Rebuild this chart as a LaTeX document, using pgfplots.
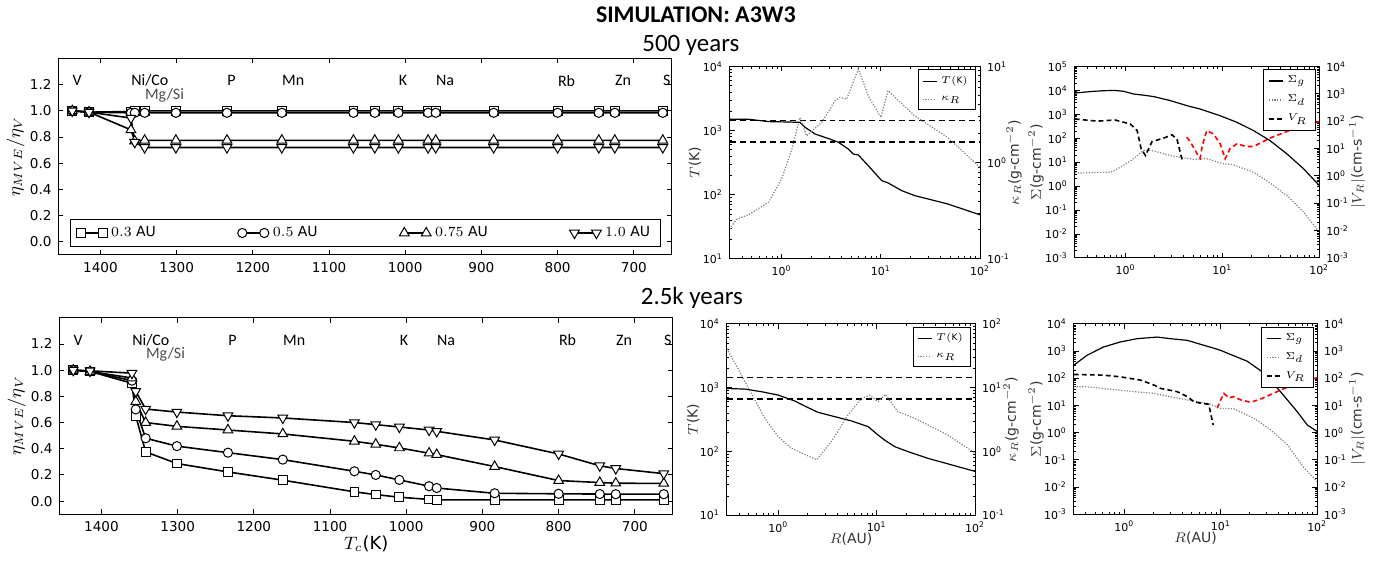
\documentclass[border=0pt]{standalone}
\usepackage{fontspec}
\setmainfont{DejaVu Sans}
\newfontfamily\carlito{Carlito}
\usepackage{pgfplots}
\pgfplotsset{compat=1.18}

\tikzset{elab/.style={font=\carlito\fontsize{8}{9}\selectfont, anchor=west, inner sep=0pt}}

\pgfplotsset{
  pbase/.style={
    scale only axis, tick align=inside,
    major tick length=2.4pt, minor tick length=1.3pt,
    axis line style={line width=0.5pt},
    every tick/.style={black, line width=0.45pt},
    /pgf/number format/assume math mode=true,
  },
  etapanel/.style={pbase,
    width=307.5pt, height=98.5pt,
    x dir=reverse, xmin=650, xmax=1455, ymin=-0.1, ymax=1.4,
    xtick={700,800,900,1000,1100,1200,1300,1400},
    ytick={0,0.2,0.4,0.6,0.8,1.0,1.2},
    ticklabel style={font=\fontsize{6.8}{8}\selectfont},
    yticklabel style={/pgf/number format/.cd, fixed, fixed zerofill, precision=1},
    xticklabel style={/pgf/number format/.cd, set thousands separator={}},
    clip=false,
    ylabel={$\eta_{MVE}/\eta_V$},
    ylabel style={font=\fontsize{9}{10}\selectfont, at={(axis description cs:-0.07,0.5)}, anchor=center},
    xlabel style={font=\fontsize{9}{10}\selectfont, at={(axis description cs:0.5,-0.15)}, anchor=center},
  },
  sq/.style={black, line width=0.8pt, mark=square*, mark size=2.2pt, mark options={fill=white, line width=0.5pt}},
  ci/.style={black, line width=0.8pt, mark=*, mark size=2.3pt, mark options={fill=white, line width=0.5pt}},
  tu/.style={black, line width=0.8pt, mark=triangle*, mark size=2.8pt, mark options={fill=white, line width=0.5pt}},
  td/.style={black, line width=0.8pt, mark=triangle*, mark size=2.8pt, mark options={fill=white, rotate=180, line width=0.5pt}},
  rpanel/.style={pbase, xmin=0.3, xmax=100,
    xtick={1,10,100},
    xticklabels={10\textsuperscript{0},10\textsuperscript{1},10\textsuperscript{2}},
    minor xtick={0.4,0.5,0.6,0.7,0.8,0.9,2,3,4,5,6,7,8,9,20,30,40,50,60,70,80,90},
    ticklabel style={font=\fontsize{5.5}{6}\selectfont},
    label style={font=\fontsize{7}{8}\selectfont, text=black!80},
    xlabel style={at={(axis description cs:0.5,-0.125)}, anchor=center},
  },
  leftlab/.style={ylabel style={at={(axis description cs:#1,0.5)}, anchor=center}},
  minT/.style={minor ytick={20,30,40,50,60,70,80,90,200,300,400,500,600,700,800,900,2000,3000,4000,5000,6000,7000,8000,9000}},
  minKa/.style={minor ytick={0.2,0.3,0.4,0.5,0.6,0.7,0.8,0.9,2,3,4,5,6,7,8,9}},
  minKb/.style={minor ytick={0.2,0.3,0.4,0.5,0.6,0.7,0.8,0.9,2,3,4,5,6,7,8,9,20,30,40,50,60,70,80,90}},
  minV/.style={minor ytick={0.002,0.003,0.004,0.005,0.006,0.007,0.008,0.009,0.02,0.03,0.04,0.05,0.06,0.07,0.08,0.09,0.2,0.3,0.4,0.5,0.6,0.7,0.8,0.9,2,3,4,5,6,7,8,9,20,30,40,50,60,70,80,90,200,300,400,500,600,700,800,900,2000,3000,4000,5000,6000,7000,8000,9000}},
  minS/.style={minor ytick={0.002,0.003,0.004,0.005,0.006,0.007,0.008,0.009,0.02,0.03,0.04,0.05,0.06,0.07,0.08,0.09,0.2,0.3,0.4,0.5,0.6,0.7,0.8,0.9,2,3,4,5,6,7,8,9,20,30,40,50,60,70,80,90,200,300,400,500,600,700,800,900,2000,3000,4000,5000,6000,7000,8000,9000,20000,30000,40000,50000,60000,70000,80000,90000}},
  twin/.style={hide x axis, ytick pos=right, yticklabel pos=right},
  smalllegend/.style={legend style={at={(0.985,0.985)}, anchor=north east,
      font=\fontsize{4.5}{5}\selectfont, draw=black, line width=0.5pt,
      inner xsep=2pt, inner ysep=1.2pt, row sep=0.6pt, cells={anchor=west}},
    legend image code/.code={\draw[##1] (0pt,0pt) -- (7pt,0pt);}},
  Tline/.style={black, line width=0.6pt},
  kline/.style={gray, line width=0.6pt, dash pattern=on 0.6pt off 0.8pt},
  Sg/.style={black, line width=0.6pt},
  Sd/.style={gray, line width=0.6pt, dash pattern=on 0.6pt off 0.8pt},
  Vb/.style={black, line width=0.8pt, dash pattern=on 2.4pt off 1.6pt},
  Vr/.style={red, line width=0.8pt, dash pattern=on 2.4pt off 1.6pt},
  hline/.style={black, line width=0.7pt, dash pattern=on 3pt off 2pt, forget plot},
}

% element labels along the top of the left panels
\newcommand{\elements}{%
  \node[elab] at (axis cs:1437,1.23) {V};
  \node[elab] at (axis cs:1360,1.23) {Ni/Co};
  \node[elab, text=black!70] at (axis cs:1342,1.12) {Mg/Si};
  \node[elab] at (axis cs:1234,1.23) {P};
  \node[elab] at (axis cs:1162,1.23) {Mn};
  \node[elab] at (axis cs:1009,1.23) {K};
  \node[elab] at (axis cs:960,1.23) {Na};
  \node[elab] at (axis cs:800,1.23) {Rb};
  \node[elab] at (axis cs:725,1.23) {Zn};
  \node[elab] at (axis cs:662,1.23) {S};
}

\begin{document}
\begin{tikzpicture}[x=1pt,y=1pt]
\path (0,0) rectangle (695,281.5);

\node[font=\carlito\bfseries\fontsize{12}{14}\selectfont] at (347,275.5) {SIMULATION: A3W3};
\node[font=\carlito\fontsize{12.5}{14}\selectfont] at (344.5,260) {500 years};
\node[font=\carlito\fontsize{12.5}{14}\selectfont] at (345,133.5) {2.5k years};

% ---------------- 500 years: depletion pattern ----------------
\begin{axis}[etapanel, at={(27.5pt,155pt)}, anchor=south west,
  legend columns=4,
  legend style={at={(0.5,0.04)}, anchor=south, font=\fontsize{7}{8}\selectfont,
    draw=black, line width=0.5pt, inner ysep=1.5pt,
    /tikz/every even column/.append style={column sep=39pt}},
  legend image code/.code={\draw[#1] plot coordinates {(0pt,0pt) (11pt,0pt)};},
]
\addplot[sq] coordinates {(1437,1.0)(1415,0.99)(1360,0.995)(1355,1.0)(1342,1.0)(1301,1.0)(1234,1.0)(1162,1.0)(1068,1.0)(1040,1.0)(1009,1.0)(970,1.0)(960,1.0)(884,1.0)(800,1.0)(746,1.0)(725,1.0)(662,1.0)};
\addlegendentry{$0.3$ AU}
\addplot[ci] coordinates {(1437,1.0)(1415,0.99)(1360,0.985)(1355,0.985)(1342,0.985)(1301,0.985)(1234,0.985)(1162,0.985)(1068,0.985)(1040,0.985)(1009,0.985)(970,0.985)(960,0.985)(884,0.985)(800,0.985)(746,0.985)(725,0.985)(662,0.985)};
\addlegendentry{$0.5$ AU}
\addplot[tu] coordinates {(1437,1.0)(1415,0.99)(1360,0.855)(1355,0.77)(1342,0.775)(1301,0.775)(1234,0.775)(1162,0.775)(1068,0.775)(1040,0.775)(1009,0.775)(970,0.775)(960,0.775)(884,0.775)(800,0.775)(746,0.775)(725,0.775)(662,0.775)};
\addlegendentry{$0.75$ AU}
\addplot[td] coordinates {(1437,1.0)(1415,0.99)(1360,0.945)(1355,0.76)(1342,0.72)(1301,0.72)(1234,0.72)(1162,0.72)(1068,0.72)(1040,0.72)(1009,0.72)(970,0.72)(960,0.72)(884,0.72)(800,0.72)(746,0.72)(725,0.72)(662,0.72)};
\addlegendentry{$1.0$ AU}
\elements
\end{axis}

% ---------------- 2.5k years: depletion pattern ----------------
\begin{axis}[etapanel, at={(28pt,25pt)}, anchor=south west, xlabel={$T_c$(K)}]
\addplot[sq] coordinates {(1437,1.0)(1415,0.99)(1360,0.90)(1355,0.65)(1342,0.376)(1301,0.287)(1234,0.223)(1162,0.16)(1068,0.071)(1040,0.05)(1009,0.03)(970,0.013)(960,0.01)(884,0.01)(800,0.01)(746,0.01)(725,0.01)(662,0.01)};
\addplot[ci] coordinates {(1437,1.0)(1415,0.99)(1360,0.92)(1355,0.70)(1342,0.48)(1301,0.42)(1234,0.37)(1162,0.317)(1068,0.228)(1040,0.20)(1009,0.162)(970,0.114)(960,0.10)(884,0.06)(800,0.056)(746,0.054)(725,0.053)(662,0.053)};
\addplot[tu] coordinates {(1437,1.0)(1415,0.99)(1360,0.94)(1355,0.76)(1342,0.60)(1301,0.571)(1234,0.543)(1162,0.513)(1068,0.457)(1040,0.434)(1009,0.406)(970,0.366)(960,0.355)(884,0.264)(800,0.157)(746,0.142)(725,0.137)(662,0.135)};
\addplot[td] coordinates {(1437,1.0)(1415,0.995)(1360,0.977)(1355,0.838)(1342,0.703)(1301,0.68)(1234,0.652)(1162,0.635)(1068,0.60)(1040,0.584)(1009,0.566)(970,0.543)(960,0.533)(884,0.467)(800,0.36)(746,0.27)(725,0.249)(662,0.21)};
\elements
\end{axis}

% ---------------- 500 years: temperature and opacity ----------------
\begin{axis}[xmode=log, ymode=log, rpanel, minT, leftlab=-0.139, at={(364pt,153pt)}, anchor=south west, width=125.5pt, height=96.5pt,
  ymin=10, ymax=1e4, ytick pos=left,
  ytick={10,100,1000,10000},
  yticklabels={10\textsuperscript{1},10\textsuperscript{2},10\textsuperscript{3},10\textsuperscript{4}},
  ylabel={$T$(K)}]
\addplot[hline] coordinates {(0.3,1450)(100,1450)};
\addplot[hline] coordinates {(0.3,665)(100,665)};
\addplot[Tline] coordinates {(0.3,1500)(0.466,1500)(0.74,1380)(1.2,1360)(1.53,1340)(1.73,1120)(2.17,885)(3.19,722)(3.73,656)(4.7,516)(5.27,431)(5.92,417)(7.46,284)(10.2,166)(11.8,153)(16.2,116)(21.9,97)(47,72)(100,48.6)};
\end{axis}
\begin{axis}[xmode=log, ymode=log, rpanel, minKa, twin, smalllegend, leftlab=1.135, at={(364pt,153pt)}, anchor=south west, width=125.5pt, height=96.5pt,
  ymin=0.1, ymax=10,
  ytick={0.1,1,10},
  yticklabels={10\textsuperscript{-1},10\textsuperscript{0},10\textsuperscript{1}},
  ylabel={$\kappa_R$(g-cm$^{-2}$)}]
\addlegendimage{Tline}
\addlegendentry{$T(\mathrm{K})$}
\addplot[kline] coordinates {(0.3,0.205)(0.355,0.26)(0.466,0.288)(0.74,0.39)(1.0,0.68)(1.27,1.39)(1.53,2.95)(1.78,1.9)(2.54,2.63)(3.45,4.4)(3.87,4.77)(4.52,4.57)(5.92,9.4)(7.46,4.96)(10,2.95)(11.8,5.6)(21.9,3.07)(47,1.83)(100,0.895)};
\addlegendentry{$\kappa_R$}
\end{axis}

% ---------------- 500 years: surface densities and radial velocity ----------------
\begin{axis}[xmode=log, ymode=log, rpanel, minS, leftlab=-0.159, at={(537pt,153.5pt)}, anchor=south west, width=122.5pt, height=96pt,
  ymin=1e-3, ymax=1e5, ytick pos=left,
  ytick={1e-3,1e-2,1e-1,1,10,100,1000,1e4,1e5},
  yticklabels={10\textsuperscript{-3},10\textsuperscript{-2},10\textsuperscript{-1},10\textsuperscript{0},10\textsuperscript{1},10\textsuperscript{2},10\textsuperscript{3},10\textsuperscript{4},10\textsuperscript{5}},
  ylabel={$\Sigma$(g-cm$^{-2}$)}]
\addplot[Sg] coordinates {(0.3,7750)(0.45,9000)(0.6,9700)(0.78,9900)(0.96,9100)(1.22,7000)(1.54,6300)(1.95,5500)(2.9,3740)(4.3,2300)(5.9,1660)(9.5,870)(14.1,465)(21,209)(31,80)(46.5,22)(69,5.3)(100,1.07)};
\addplot[Sd] coordinates {(0.3,3.5)(0.7,3.8)(0.89,6.2)(1.15,12)(1.54,31)(1.8,32)(2.9,19)(5.06,13)(6.9,14)(10.3,8.5)(13,7.8)(21,3.8)(31,1.37)(46.5,0.4)(69,0.083)(100,0.012)};
\end{axis}
\begin{axis}[xmode=log, ymode=log, rpanel, minV, twin, smalllegend, leftlab=1.155, at={(537pt,153.5pt)}, anchor=south west, width=122.5pt, height=96pt,
  ymin=1e-3, ymax=1e4,
  ytick={1e-3,1e-2,1e-1,1,10,100,1000,1e4},
  yticklabels={10\textsuperscript{-3},10\textsuperscript{-2},10\textsuperscript{-1},10\textsuperscript{0},10\textsuperscript{1},10\textsuperscript{2},10\textsuperscript{3},10\textsuperscript{4}},
  ylabel={$|V_R|$(cm-s$^{-1}$)}]
\addlegendimage{Sg}
\addlegendentry{$\Sigma_g$}
\addlegendimage{Sd}
\addlegendentry{$\Sigma_d$}
\addplot[Vb] coordinates {(0.3,120)(0.51,100)(0.78,110)(1.12,79)(1.32,45)(1.45,9.8)(1.61,5.5)(1.88,18)(2.48,24)(3.02,31.6)(3.4,22)(3.83,4.0)};
\addlegendentry{$V_R$}
\addplot[Vr, forget plot] coordinates {(4.3,26)(4.7,17)(5.5,6.3)(5.9,4.4)(6.2,12.6)(6.9,45)(8.1,34)(9.5,14.8)(10.7,4.2)(12,9.8)(14.1,14.8)(17.9,11.8)(21,11.8)(31,24)(46.5,42)(69,69)(100,96)};
\end{axis}

% ---------------- 2.5k years: temperature and opacity ----------------
\begin{axis}[xmode=log, ymode=log, rpanel, minT, leftlab=-0.135, at={(362.5pt,24.5pt)}, anchor=south west, width=124.5pt, height=96pt,
  ymin=10, ymax=1e4, ytick pos=left,
  ytick={10,100,1000,10000},
  yticklabels={10\textsuperscript{1},10\textsuperscript{2},10\textsuperscript{3},10\textsuperscript{4}},
  ylabel={$T$(K)}, xlabel={$R$(AU)}]
\addplot[hline] coordinates {(0.3,1440)(100,1440)};
\addplot[hline] coordinates {(0.3,662)(100,662)};
\addplot[Tline] coordinates {(0.3,968)(0.46,946)(0.68,860)(1.0,762)(1.48,614)(1.86,513)(2.54,409)(3.76,350)(5.55,300)(8.2,244)(10.3,181)(12,151)(15.2,119)(20.7,99.5)(33,78)(52.6,64)(100,48.6)};
\end{axis}
\begin{axis}[xmode=log, ymode=log, rpanel, minKb, twin, smalllegend, leftlab=1.145, at={(362.5pt,24.5pt)}, anchor=south west, width=124.5pt, height=96pt,
  ymin=0.1, ymax=100,
  ytick={0.1,1,10,100},
  yticklabels={10\textsuperscript{-1},10\textsuperscript{0},10\textsuperscript{1},10\textsuperscript{2}},
  ylabel={$\kappa_R$(g-cm$^{-2}$)}]
\addlegendimage{Tline}
\addlegendentry{$T(\mathrm{K})$}
\addplot[kline] coordinates {(0.3,40.8)(0.39,19.9)(0.5,9.7)(0.73,3.3)(1.0,1.7)(1.36,1.12)(2.45,0.74)(3.47,1.43)(5.1,3.7)(7.0,6.76)(8.5,7.6)(10.3,6.0)(12.2,7.8)(16.4,4.2)(24.3,3.3)(52.6,1.81)(100,0.94)};
\addlegendentry{$\kappa_R$}
\end{axis}

% ---------------- 2.5k years: surface densities and radial velocity ----------------
\begin{axis}[xmode=log, ymode=log, rpanel, minV, leftlab=-0.156, at={(536.5pt,25pt)}, anchor=south west, width=122pt, height=95.5pt,
  ymin=1e-3, ymax=1e4, ytick pos=left,
  ytick={1e-3,1e-2,1e-1,1,10,100,1000,1e4},
  yticklabels={10\textsuperscript{-3},10\textsuperscript{-2},10\textsuperscript{-1},10\textsuperscript{0},10\textsuperscript{1},10\textsuperscript{2},10\textsuperscript{3},10\textsuperscript{4}},
  ylabel={$\Sigma$(g-cm$^{-2}$)}, xlabel={$R$(AU)}]
\addplot[Sg] coordinates {(0.3,300)(0.41,690)(0.61,1400)(0.91,2140)(1.36,2830)(2.19,3240)(3.0,2830)(4.5,2450)(6.7,1610)(8,1350)(10,1050)(12,800)(18.8,420)(28,156)(41.6,32)(62,5.9)(79,1.9)(100,1.1)};
\addplot[Sd] coordinates {(0.3,48.6)(0.41,48)(0.91,36)(2.03,27.5)(4.5,15.8)(7.2,12)(10,7.8)(13.7,7.4)(22,3.4)(33,1.26)(49,0.36)(73,0.05)(100,0.016)};
\end{axis}
\begin{axis}[xmode=log, ymode=log, rpanel, minV, twin, smalllegend, leftlab=1.164, at={(536.5pt,25pt)}, anchor=south west, width=122pt, height=95.5pt,
  ymin=1e-3, ymax=1e4,
  ytick={1e-3,1e-2,1e-1,1,10,100,1000,1e4},
  yticklabels={10\textsuperscript{-3},10\textsuperscript{-2},10\textsuperscript{-1},10\textsuperscript{0},10\textsuperscript{1},10\textsuperscript{2},10\textsuperscript{3},10\textsuperscript{4}},
  ylabel={$|V_R|$(cm-s$^{-1}$)}]
\addlegendimage{Sg}
\addlegendentry{$\Sigma_g$}
\addlegendimage{Sd}
\addlegendentry{$\Sigma_d$}
\addplot[Vb] coordinates {(0.3,137)(0.61,129)(0.91,112)(1.47,85)(2.03,56)(2.38,42)(3.53,32)(4.5,21)(5.26,13.8)(6.2,12)(7.5,11)(7.8,5.9)(8.35,1.9)};
\addlegendentry{$V_R$}
\addplot[Vr, forget plot] coordinates {(9.2,7.9)(10,16)(10.8,27.5)(12.1,19)(13.7,21)(16,16)(20.4,13)(25.8,17)(38.5,32)(57,59)(100,105)};
\end{axis}
\end{tikzpicture}
\end{document}
